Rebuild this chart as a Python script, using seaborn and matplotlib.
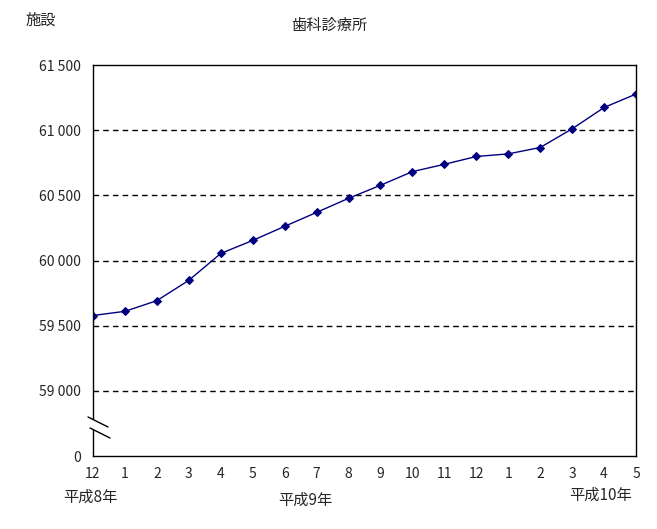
import matplotlib
matplotlib.use("Agg")
import matplotlib.pyplot as plt
import seaborn as sns
import numpy as np
import pandas as pd

months = ["12", "1", "2", "3", "4", "5", "6", "7", "8", "9", "10", "11", "12", "1", "2", "3", "4", "5"]
facilities = [59578, 59610, 59692, 59848, 60054, 60154, 60262, 60369, 60477, 60577,
              60682, 60738, 60798, 60818, 60867, 61010, 61174, 61277]
ytick_values = [58500, 59000, 59500, 60000, 60500, 61000, 61500]
ytick_labels = ["0", "59 000", "59 500", "60 000", "60 500", "61 000", "61 500"]
title = "歯科診療所"
unit = "施設"
era_labels = ["平成8年", "平成9年", "平成10年"]

sns.set_style("white")
plt.rcParams["font.family"] = ["Noto Sans CJK JP", "DejaVu Sans"]

df = pd.DataFrame({"pos": np.arange(len(months)), "value": facilities})

fig = plt.figure(figsize=(6.57, 5.29), dpi=100)
ax = fig.add_axes([93/657, 1-456/529, (636-93)/657, (456-65)/529])

sns.lineplot(data=df, x="pos", y="value", ax=ax, color="#000080", linewidth=1.0,
             marker="D", markersize=4.5, markeredgecolor="#000080", markerfacecolor="#000080")

ax.set_xlim(0, len(months)-1)
ax.set_ylim(58500, 61500)
ax.set_xticks(df["pos"])
ax.set_xticklabels(months, fontsize=10)
ax.set_yticks(ytick_values)
ax.set_yticklabels(ytick_labels, fontsize=10)
ax.tick_params(axis="x", direction="in", length=4, width=1, color="black", pad=8)
ax.tick_params(axis="y", length=0, pad=9)
ax.set_xlabel("")
ax.set_ylabel("")
for v in ytick_values[1:-1]:
    ax.axhline(v, color="black", linestyle=(0, (4, 3)), linewidth=1, zorder=0)
for s in ax.spines.values():
    s.set_color("black")
    s.set_linewidth(1)

# axis break marker
trans = ax.transAxes
def px(x, y):
    return ((x-93)/(636-93), (456-y)/(456-65))
poly = [px(88, 417), px(109, 427), px(111, 438), px(90, 428)]
ax.add_patch(plt.Polygon(poly, closed=True, facecolor="white", edgecolor="none",
                         transform=trans, clip_on=False, zorder=5))
for (x0, y0, x1, y1) in [(88, 417, 108, 427), (90, 428, 110, 438)]:
    a = px(x0, y0); b = px(x1, y1)
    ax.plot([a[0], b[0]], [a[1], b[1]], color="black", linewidth=1, transform=trans,
            clip_on=False, zorder=6)

fig.text(329/657, 1-25/529, title, ha="center", va="center", fontsize=11)
fig.text(41/657, 1-20/529, unit, ha="center", va="center", fontsize=11)
fig.text(90/657, 1-497/529, era_labels[0], ha="center", va="center", fontsize=11)
fig.text(305/657, 1-500/529, era_labels[1], ha="center", va="center", fontsize=11)
fig.text(601/657, 1-495/529, era_labels[2], ha="center", va="center", fontsize=11)

fig.savefig("out.png", dpi=100)
